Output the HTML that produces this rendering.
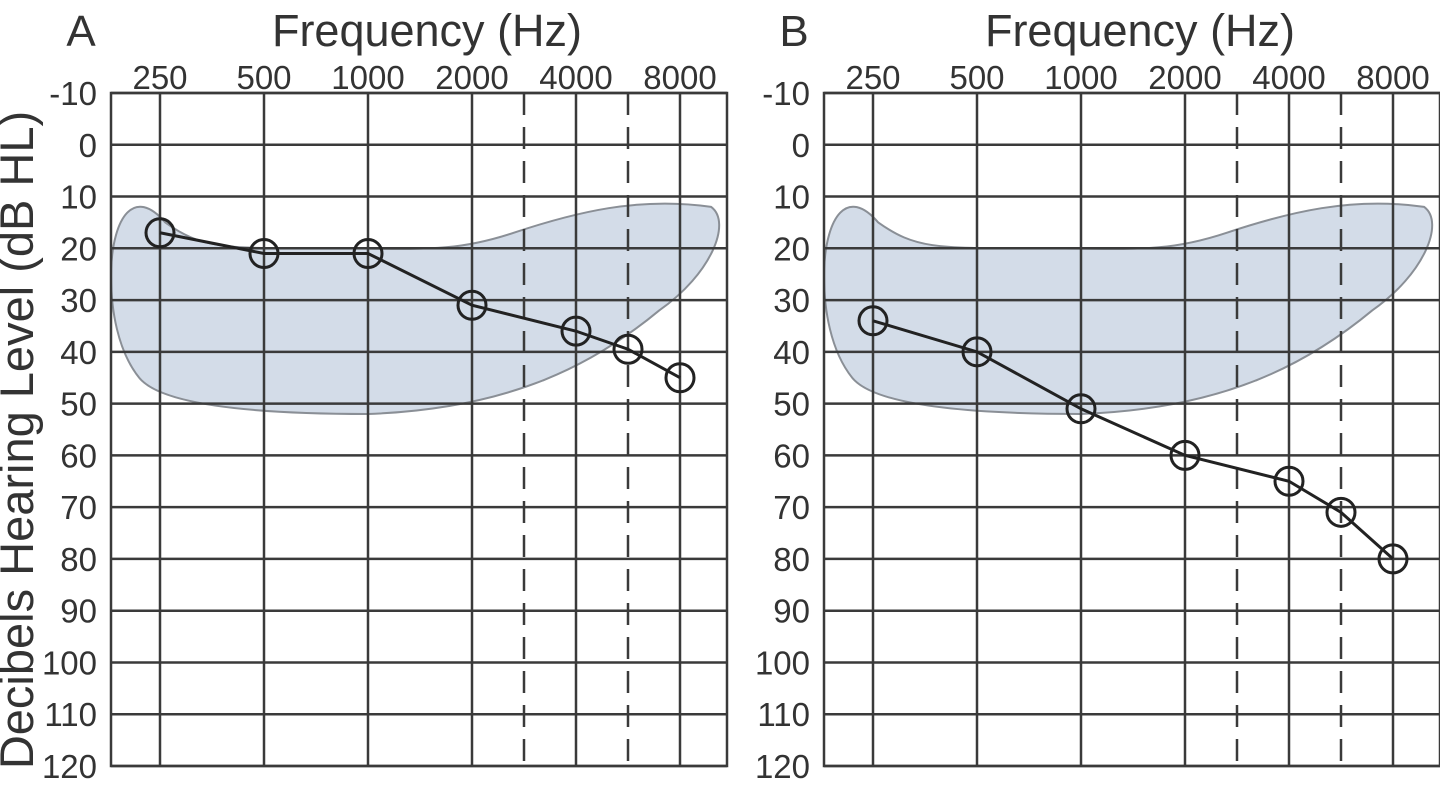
<!DOCTYPE html>
<html><head><meta charset="utf-8"><style>
html,body{margin:0;padding:0;background:#fff;width:1440px;height:794px;overflow:hidden}
svg{display:block;font-family:"Liberation Sans",Arial,sans-serif}
</style></head><body>
<svg id="chart" width="1440" height="794" viewBox="0 0 1440 794"></svg>
<script>
const freqLabels = ["250","500","1000","2000","4000","8000"];
const freqOctaves = [0,1,2,3,4,5];
const dashedOctaves = [3.5,4.5];
const yTicks = [-10,0,10,20,30,40,50,60,70,80,90,100,110,120];
const pointOctaves = [0,1,2,3,4,4.5,5];
const seriesA = [17,21,21,31,36,39.5,45];
const seriesB = [34,40,51,60,65,71,80];
const panelLetters = ["A","B"];

const NS="http://www.w3.org/2000/svg";
const svg=document.getElementById('chart');
function mk(tag,attrs,parent){const e=document.createElementNS(NS,tag);for(const k in attrs)e.setAttribute(k,attrs[k]);(parent||svg).appendChild(e);return e;}

function drawPanel(ox, letter, series){
  const g=mk('g',{});
  
  
  const left=111+ox, right=727+ox, top=93, bottom=766;
  const xs=o=>160+ox+o*104;
  const ys=v=>top+(v+10)*(bottom-top)/130;
  const b=mk('path',{d:`M${xs(-0.47)},${ys(24)} C${xs(-0.45)},${ys(14)} ${xs(-0.25)},${ys(8)} ${xs(0.05)},${ys(15)} C${xs(0.4)},${ys(20)} ${xs(0.6)},${ys(20)} ${xs(1.5)},${ys(20)} C${xs(2.5)},${ys(20)} ${xs(2.8)},${ys(21)} ${xs(3.4)},${ys(17)} C${xs(4)},${ys(13)} ${xs(4.6)},${ys(10)} ${xs(5.3)},${ys(12)} C${xs(5.5)},${ys(15)} ${xs(5.3)},${ys(25)} ${xs(4.8)},${ys(32)} C${xs(4.2)},${ys(42)} ${xs(3.4)},${ys(51)} ${xs(2)},${ys(52)} C${xs(0.8)},${ys(52)} ${xs(0)},${ys(50)} ${xs(-0.2)},${ys(45)} C${xs(-0.4)},${ys(40)} ${xs(-0.48)},${ys(32)} ${xs(-0.47)},${ys(24)} Z`,fill:'#d3dce8',stroke:'#8a8f96','stroke-width':2},g);
  
  
  yTicks.forEach(v=>{
    const l=mk('line',{x1:left,x2:right,y1:ys(v),y2:ys(v),stroke:'#3a3a3a','stroke-width':2.5},g);
    
    
    const t=mk('text',{x:left-14,y:ys(v)+12,'text-anchor':'end','font-size':33,fill:'#333'},g);
    t.textContent=v;
    
    
  });
  freqOctaves.forEach((o,i)=>{
    const l=mk('line',{x1:xs(o),x2:xs(o),y1:top,y2:bottom,stroke:'#3a3a3a','stroke-width':2.5},g);
    
    
    const t=mk('text',{x:xs(o),y:top-4,'text-anchor':'middle','font-size':33,fill:'#333'},g);
    t.textContent=freqLabels[i];
    
    
  });
  dashedOctaves.forEach(o=>{
    const l=mk('line',{x1:xs(o),x2:xs(o),y1:top,y2:bottom,stroke:'#3a3a3a','stroke-width':2.5,'stroke-dasharray':'22,12'},g);
    
    
  });
  const frame=mk('rect',{x:left,y:top,width:right-left,height:bottom-top,fill:'none',stroke:'#3a3a3a','stroke-width':2.5},g);
  
  
  const pts=series.map((v,i)=>xs(pointOctaves[i])+','+ys(v)).join(' ');
  const pl=mk('polyline',{points:pts,fill:'none',stroke:'#222','stroke-width':3},g);
  
  
  series.forEach((v,i)=>{
    const c=mk('circle',{cx:xs(pointOctaves[i]),cy:ys(v),r:14,fill:'none',stroke:'#222','stroke-width':3},g);
    
    
  });
  const L=mk('text',{x:left-30,y:46,'text-anchor':'middle','font-size':44,fill:'#333'},g);
  L.textContent=letter;
  
  
  const T=mk('text',{x:(left+right)/2+8,y:46,'text-anchor':'middle','font-size':45,fill:'#333'},g);
  T.textContent='Frequency (Hz)';
  
  
}
drawPanel(0,panelLetters[0],seriesA);
drawPanel(713,panelLetters[1],seriesB);
const yt=mk('text',{x:0,y:0,'text-anchor':'middle','font-size':47,fill:'#333',transform:'translate(33,440) rotate(-90)'});
yt.textContent='Decibels Hearing Level (dB HL)';


</script>
</body></html>
